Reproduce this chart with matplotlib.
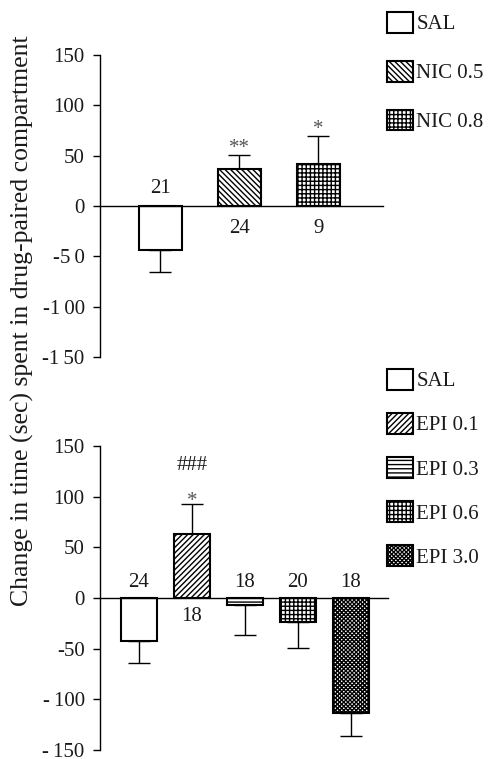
import matplotlib
matplotlib.use("Agg")
import matplotlib.pyplot as plt
import numpy as np

plt.rcParams['font.family'] = ['Liberation Serif', 'DejaVu Serif']
plt.rcParams['hatch.linewidth'] = 1.0
plt.rcParams['hatch.color'] = 'black'

# ---- data ----
nic_groups = ["SAL", "NIC 0.5", "NIC 0.8"]
nic_values = [-44, 37, 42]
nic_err = [22, 14, 28]
nic_n = ["21", "24", "9"]
nic_sig = ["", "**", "*"]
nic_hatch = ["", "\\\\\\\\\\\\", "++++"]

epi_groups = ["SAL", "EPI 0.1", "EPI 0.3", "EPI 0.6", "EPI 3.0"]
epi_values = [-42, 63, -7, -24, -113]
epi_err = [22, 30, 30, 25, 23]
epi_n = ["24", "18", "18", "20", "18"]
epi_sig = ["", "*", "", "", ""]
epi_sig2 = ["", "###", "", "", ""]
epi_hatch = ["", "//////", "----", "++++", "xxxxxxxx"]

yticks = [-150, -100, -50, 0, 50, 100, 150]
top_yticklabels = ["-1\u200950", "-1\u200900", "-5\u20090", "0", "50", "100", "150"]
bot_yticklabels = ["-\u2009150", "-\u2009100", "-50", "0", "50", "100", "150"]

W, H = 489, 759
fig = plt.figure(figsize=(W / 100, H / 100), dpi=100)
TXT = '#1a1a1a'
FS = 15


def setup_axes(ax, labels):
    ax.set_ylim(-150, 150)
    ax.set_yticks(yticks)
    ax.set_yticklabels(labels)
    ax.spines['top'].set_visible(False)
    ax.spines['right'].set_visible(False)
    ax.spines['bottom'].set_position(('data', 0))
    ax.spines['left'].set_linewidth(1.0)
    ax.spines['bottom'].set_linewidth(1.0)
    ax.tick_params(axis='x', bottom=False, labelbottom=False)
    ax.tick_params(axis='y', direction='out', length=5, width=1.0, pad=6,
                   labelsize=FS, labelcolor=TXT)
    ax.patch.set_alpha(0)


def draw_panel(ax, groups, values, errs, hatches, width):
    x = np.arange(len(groups))
    handles = []
    for i, (g, v, e, h) in enumerate(zip(groups, values, errs, hatches)):
        b = ax.bar(x[i], v, width=width, color='white', edgecolor='black',
                   linewidth=1.5, hatch=h, label=g, zorder=2)
        handles.append(b[0])
        yerr = [[e], [0]] if v < 0 else [[0], [e]]
        ax.errorbar(x[i], v, yerr=yerr, fmt='none', ecolor='black',
                    elinewidth=1.0, capsize=8, capthick=1.0, zorder=1)
    return x, handles


# ---- top panel ----
ax1 = fig.add_axes([100 / W, 1 - 357 / H, 283 / W, 302 / H])
setup_axes(ax1, top_yticklabels)
x1, h1 = draw_panel(ax1, nic_groups, nic_values, nic_err, nic_hatch, 0.544)
ax1.set_xlim(-0.76, 2.82)
for i, v in enumerate(nic_values):
    ypos = 17 if v < 0 else -22
    ax1.text(x1[i], ypos, nic_n[i], ha='center', va='center', fontsize=FS, color=TXT)
    if nic_sig[i]:
        ax1.text(x1[i], v + nic_err[i] + 2, nic_sig[i], ha='center', va='baseline',
                 fontsize=FS, color='#555555')

ax1.legend(handles=h1, labels=nic_groups, loc='upper left',
           bbox_to_anchor=(387 / W, 1 - 12 / H), bbox_transform=fig.transFigure,
           frameon=False, fontsize=15, handlelength=1.25, handleheight=1.15,
           handletextpad=0.15, labelspacing=1.27, borderpad=0, borderaxespad=0,
           labelcolor=TXT)

# ---- bottom panel ----
ax2 = fig.add_axes([100 / W, 1 - 750 / H, 288 / W, 304 / H])
setup_axes(ax2, bot_yticklabels)
x2, h2 = draw_panel(ax2, epi_groups, epi_values, epi_err, epi_hatch, 0.68)
ax2.set_xlim(-0.736, 4.70)
for i, v in enumerate(epi_values):
    ypos = 15 if v < 0 else -18
    ax2.text(x2[i], ypos, epi_n[i], ha='center', va='center', fontsize=FS, color=TXT)
    if epi_sig[i]:
        ax2.text(x2[i], v + epi_err[i] - 2, epi_sig[i], ha='center', va='baseline',
                 fontsize=FS, color='#555555')
    if epi_sig2[i]:
        ax2.text(x2[i], 126, epi_sig2[i], ha='center', va='baseline',
                 fontsize=FS, color=TXT)

ax2.legend(handles=h2, labels=epi_groups, loc='upper left',
           bbox_to_anchor=(387 / W, 1 - 369 / H), bbox_transform=fig.transFigure,
           frameon=False, fontsize=15, handlelength=1.25, handleheight=1.15,
           handletextpad=0.15, labelspacing=1.04, borderpad=0, borderaxespad=0,
           labelcolor=TXT)

fig.text(22 / W, 1 - 321 / H,
         "Change in time (sec) spent in drug-paired compartment",
         rotation=90, ha='center', va='center', fontsize=18.5, color=TXT)

fig.savefig("out.png", dpi=100)
